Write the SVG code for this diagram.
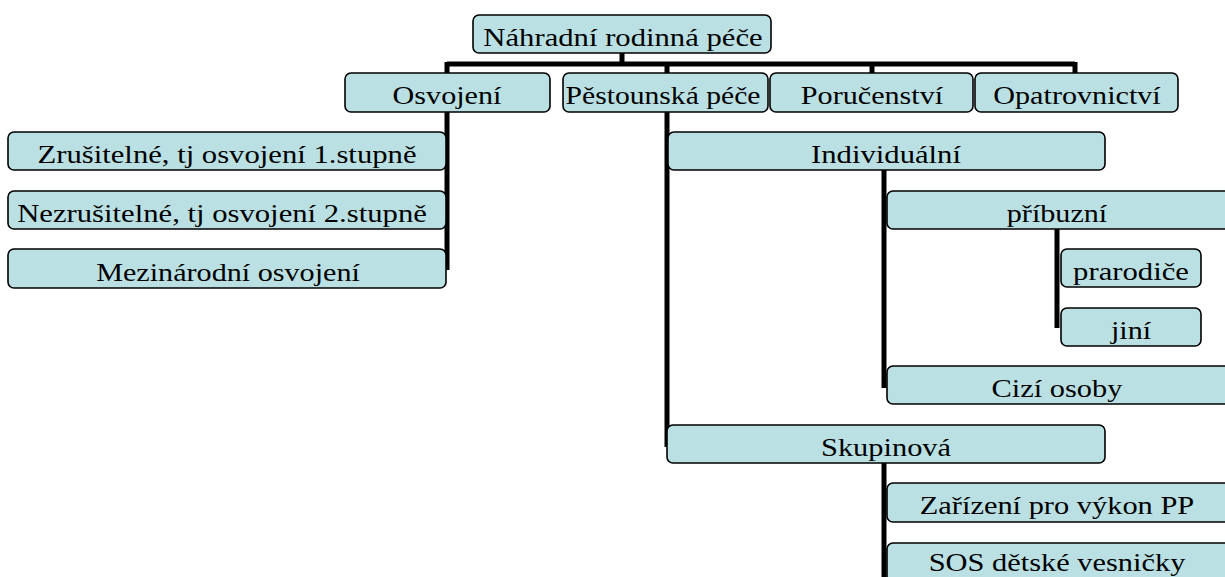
<svg xmlns="http://www.w3.org/2000/svg" width="1225" height="577" viewBox="0 0 1225 577">
<style>
.box{fill:#BAE0E3;stroke:#000;stroke-width:1.6}
.c{stroke:#000;stroke-width:5;fill:none}
</style>
<rect width="1225" height="577" fill="#fff"/>
<g id="connectors">
<path class="c" d="M622 53V64M447 64H1075M447 62V73M667 64V73M872 64V73M1075 62V73"/>
<path class="c" d="M447 112V270"/>
<path class="c" d="M667 112V447"/>
<path class="c" d="M884 170V388"/>
<path class="c" d="M1057 229V328"/>
<path class="c" d="M884 463V577"/>
</g>
<g font-family="Liberation Serif, Times New Roman, Times, serif" font-size="26" text-anchor="middle" fill="#000">
<g id="n-root"><rect class="box" x="473" y="15" width="298" height="38" rx="6"/><text transform="translate(623 46) scale(1.18 1)">Náhradní rodinná péče</text></g>
<g id="n-osvojeni"><rect class="box" x="345" y="73" width="205" height="39" rx="6"/><text transform="translate(447 104) scale(1.16 1)">Osvojení</text></g>
<g id="n-pestounska"><rect class="box" x="563" y="73" width="205" height="39" rx="6"/><text transform="translate(663 104) scale(1.14 1)">Pěstounská péče</text></g>
<g id="n-poruc"><rect class="box" x="770" y="73" width="203" height="39" rx="6"/><text transform="translate(872 104) scale(1.16 1)">Poručenství</text></g>
<g id="n-opatr"><rect class="box" x="975" y="73" width="203" height="39" rx="6"/><text transform="translate(1077 104) scale(1.16 1)">Opatrovnictví</text></g>
<g id="n-zrus"><rect class="box" x="8" y="132" width="438" height="38" rx="6"/><text transform="translate(227 163) scale(1.18 1)">Zrušitelné, tj osvojení 1.stupně</text></g>
<g id="n-nezrus"><rect class="box" x="8" y="191" width="438" height="38" rx="6"/><text transform="translate(222 222) scale(1.18 1)">Nezrušitelné, tj osvojení 2.stupně</text></g>
<g id="n-mezin"><rect class="box" x="8" y="249" width="438" height="39" rx="6"/><text transform="translate(228 281) scale(1.16 1)">Mezinárodní osvojení</text></g>
<g id="n-indiv"><rect class="box" x="668" y="132" width="437" height="38" rx="6"/><text transform="translate(886 163) scale(1.18 1)">Individuální</text></g>
<g id="n-pribuzni"><rect class="box" x="887" y="191" width="345" height="38" rx="6"/><text transform="translate(1057 222) scale(1.16 1)">příbuzní</text></g>
<g id="n-prarodice"><rect class="box" x="1061" y="249" width="140" height="38" rx="6"/><text transform="translate(1131 280) scale(1.18 1)">prarodiče</text></g>
<g id="n-jini"><rect class="box" x="1061" y="308" width="140" height="38" rx="6"/><text transform="translate(1131 339) scale(1.16 1)">jiní</text></g>
<g id="n-cizi"><rect class="box" x="887" y="366" width="345" height="38" rx="6"/><text transform="translate(1057 397) scale(1.17 1)">Cizí osoby</text></g>
<g id="n-skup"><rect class="box" x="667" y="425" width="438" height="38" rx="6"/><text transform="translate(886 456) scale(1.17 1)">Skupinová</text></g>
<g id="n-zariz"><rect class="box" x="887" y="483" width="345" height="39" rx="6"/><text transform="translate(1057 514) scale(1.17 1)">Zařízení pro výkon PP</text></g>
<g id="n-sos"><rect class="box" x="887" y="543" width="345" height="39" rx="6"/><text transform="translate(1057 571) scale(1.17 1)">SOS dětské vesničky</text></g>
</g>
</svg>
